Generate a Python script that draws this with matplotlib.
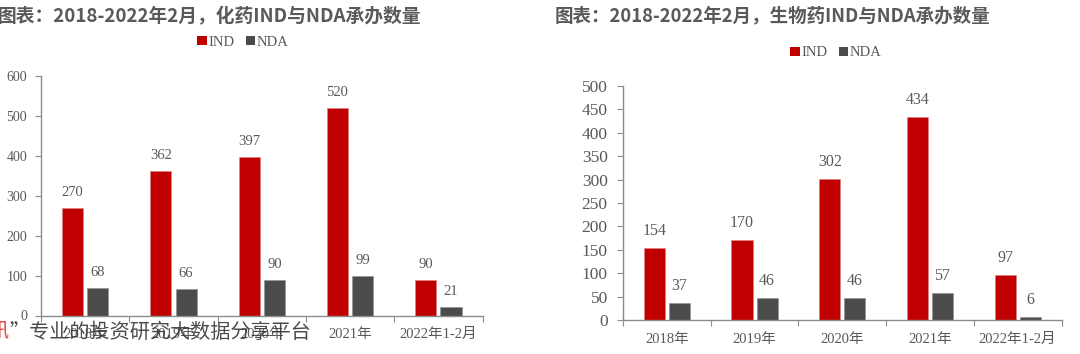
import matplotlib
matplotlib.use("Agg")
import matplotlib.pyplot as plt
from matplotlib.patches import Patch
import numpy as np

# ---- data ----
categories = ["2018年", "2019年", "2020年", "2021年", "2022年1-2月"]
chem_ind = [270, 362, 397, 520, 90]
chem_nda = [68, 66, 90, 99, 21]
bio_ind = [154, 170, 302, 434, 97]
bio_nda = [37, 46, 46, 57, 6]
left_title = "图表：2018-2022年2月，化药IND与NDA承办数量"
right_title = "图表：2018-2022年2月，生物药IND与NDA承办数量"
left_yticks = [0, 100, 200, 300, 400, 500, 600]
right_yticks = [0, 50, 100, 150, 200, 250, 300, 350, 400, 450, 500]

RED = "#C00000"
GRAY = "#4B4B4B"
TXT = "#595959"
AX = "#8C8C8C"
SERIF = ["Liberation Serif", "Noto Sans CJK SC"]
SANS = ["Noto Sans CJK SC", "DejaVu Sans"]

W, H = 1080, 354
fig = plt.figure(figsize=(W / 100, H / 100), dpi=100)


def px_axes(x0, x1, y_top, y_bot):
    return fig.add_axes([x0 / W, 1 - y_bot / H, (x1 - x0) / W, (y_bot - y_top) / H])


def draw(ax, ind, nda, yticks, ytick_fs, xtick_fs, lab_fs, ypad):
    x = np.arange(len(categories))
    bw = 0.24
    off = 0.143
    b1 = ax.bar(x - off, ind, bw, color=RED, edgecolor="#E08080", linewidth=0.4, zorder=2)
    b2 = ax.bar(x + off, nda, bw, color=GRAY, edgecolor="#909090", linewidth=0.4, zorder=2)
    for bars, vals in ((b1, ind), (b2, nda)):
        for r, v in zip(bars, vals):
            ax.annotate(str(v), (r.get_x() + r.get_width() / 2, r.get_height()),
                        xytext=(0, 6.5), textcoords="offset points", ha="center", va="bottom",
                        fontsize=lab_fs, color=TXT, family=SERIF)
    ax.set_xlim(-0.5, len(categories) - 0.5)
    ax.set_ylim(yticks[0], yticks[-1])
    ax.set_yticks(yticks)
    ax.set_yticklabels([str(t) for t in yticks], family=SERIF, fontsize=ytick_fs, color=TXT)
    ax.set_xticks(np.arange(len(categories) + 1) - 0.5)
    ax.set_xticklabels([])
    ax.set_xticks(x, minor=True)
    ax.set_xticklabels(categories, minor=True, family=SERIF, fontsize=xtick_fs, color=TXT)
    ax.tick_params(axis="x", which="major", length=4, color=AX, direction="out")
    ax.tick_params(axis="x", which="minor", length=0, pad=9)
    ax.tick_params(axis="y", length=4, color=AX, direction="out", pad=ypad)
    for s in ("top", "right"):
        ax.spines[s].set_visible(False)
    for s in ("left", "bottom"):
        ax.spines[s].set_color(AX)
        ax.spines[s].set_linewidth(1.0)
    ax.set_facecolor("none")


axL = px_axes(41, 482.6, 75.7, 315.5)
draw(axL, chem_ind, chem_nda, left_yticks, 10, 10.5, 10.5, 6)
axR = px_axes(623, 1061.5, 86, 320)
draw(axR, bio_ind, bio_nda, right_yticks, 12.5, 10.5, 11.5, 7)

handles = [Patch(facecolor=RED, edgecolor="none", label="IND"),
           Patch(facecolor=GRAY, edgecolor="none", label="NDA")]
for cx, cy, fs in ((243, 42, 10.5), (836, 53, 10.5)):
    fig.legend(handles=handles, loc="center", bbox_to_anchor=(cx / W, 1 - cy / H), ncol=2,
               frameon=False, handlelength=0.65, handleheight=0.65, handletextpad=0.1,
               columnspacing=0.8, borderpad=0, prop={"family": SERIF, "size": fs},
               labelcolor=TXT)

fig.text(-2 / W, 1 - 17 / H, left_title, family=SANS, fontsize=13.5, fontweight="bold",
         color=TXT, ha="left", va="center")
fig.text(555 / W, 1 - 16 / H, right_title, family=SANS, fontsize=13.3, fontweight="bold",
         color=TXT, ha="left", va="center")

# watermark overlay at bottom-left
fig.text(8 / W, 1 - 332 / H, "讯", family=SANS, fontsize=14.5, color="#E04848",
         ha="right", va="center", zorder=10)
fig.text(9 / W, 1 - 332 / H, "”专业的投资研究大数据分享平台", family=SANS, fontsize=14.5,
         color="#3C3C3C", ha="left", va="center", zorder=10, alpha=0.92)

fig.savefig("out.png", dpi=100, facecolor="white")
